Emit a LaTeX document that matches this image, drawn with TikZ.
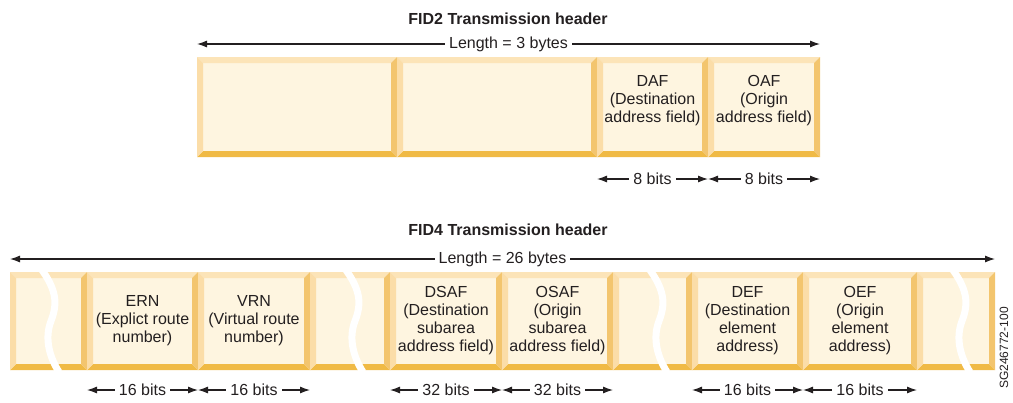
\documentclass[tikz,border=0pt]{standalone}
\usepackage{fontspec}
\setmainfont{Liberation Sans}
\usepackage{xcolor}
\definecolor{face}{HTML}{FEF5E0}
\definecolor{bevtop}{HTML}{FCE4B8}
\definecolor{bevleft}{HTML}{FBDDA8}
\definecolor{bevright}{HTML}{F3C56E}
\definecolor{bevbot}{HTML}{F0BA45}
\definecolor{ink}{HTML}{231F20}
\usetikzlibrary{positioning,arrows.meta}

% white wavy cut through a filler field: node, offset from its left edge
\newcommand{\wavebreak}[2]{%
  \draw[brk] ([xshift=#2pt,yshift=2pt]#1.north west)
    .. controls +(14,20) and +(7,-18) .. ([xshift=#2pt+9pt]#1.west)
    .. controls +(-7,18) and +(-9,-14) .. ([xshift=#2pt+17pt,yshift=-2pt]#1.south west);}

\begin{document}
\begin{tikzpicture}[x=1pt,y=-1pt, font=\fontsize{16}{18}\selectfont, text=ink,
  field/.style={fill=face, inner sep=0pt, outer sep=0pt, minimum height=98pt, align=center,
    path picture={
      \coordinate (nw) at (path picture bounding box.north west);
      \coordinate (ne) at (path picture bounding box.north east);
      \coordinate (sw) at (path picture bounding box.south west);
      \coordinate (se) at (path picture bounding box.south east);
      \fill[bevtop] (nw) -- (ne) -- ([shift={(-6pt,-6pt)}]ne) -- ([shift={(6pt,-6pt)}]nw) -- cycle;
      \fill[bevbot] (sw) -- (se) -- ([shift={(-6pt,6pt)}]se) -- ([shift={(6pt,6pt)}]sw) -- cycle;
      \fill[bevleft] (nw) -- ([shift={(6pt,-6pt)}]nw) -- ([shift={(6pt,6pt)}]sw) -- (sw) -- cycle;
      \fill[bevright] (ne) -- ([shift={(-6pt,-6pt)}]ne) -- ([shift={(-6pt,6pt)}]se) -- (se) -- cycle;}},
  ftext/.style={align=center, text=ink},
  dim/.style={{Latex[length=10pt,width=7pt]}-{Latex[length=10pt,width=7pt]}, line width=1.1pt, ink},
  lbl/.style={fill=white, inner xsep=4pt, inner ysep=1pt},
  brk/.style={white, line width=7pt},
  title/.style={font=\fontsize{16}{18}\selectfont\bfseries}]
  \useasboundingbox (0,0) rectangle (1013,402);

  % FID2
  \node[title] (fid2) at (508,19) {FID2 Transmission header};
  \node[field, minimum width=200pt, minimum height=100pt, anchor=north west] (th1) at (197,57) {};
  \node[field, minimum width=200pt, minimum height=100pt, right=0pt of th1] (th2) {};
  \node[field, minimum width=111pt, minimum height=100pt, right=0pt of th2,
    label={[ftext,yshift=6pt]center:DAF\\(Destination\\address field)}] (daf) {};
  \node[field, minimum width=112pt, minimum height=100pt, right=0pt of daf,
    label={[ftext,yshift=6pt]center:OAF\\(Origin\\address field)}] (oaf) {};
  \draw[dim] ([yshift=13pt]th1.north west) -- ([yshift=13pt]oaf.north east) node[lbl, midway] {Length = 3 bytes};
  \draw[dim] ([yshift=-22pt]daf.south west) -- ([yshift=-22pt]daf.south east) node[lbl, midway] {8 bits};
  \draw[dim] ([yshift=-22pt]oaf.south west) -- ([yshift=-22pt]oaf.south east) node[lbl, midway] {8 bits};

  % FID4
  \node[title] (fid4) at (508,230) {FID4 Transmission header};
  \node[field, minimum width=77pt, anchor=north west] (pad1) at (10,272) {};
  \node[field, minimum width=111pt, right=0pt of pad1] (ern) {ERN\\(Explict route\\number)};
  \node[field, minimum width=112pt, right=0pt of ern] (vrn) {VRN\\(Virtual route\\number)};
  \node[field, minimum width=80pt, right=0pt of vrn] (pad2) {};
  \node[field, minimum width=112pt, right=0pt of pad2] (dsaf) {DSAF\\(Destination\\subarea\\address field)};
  \node[field, minimum width=111pt, right=0pt of dsaf] (osaf) {OSAF\\(Origin\\subarea\\address field)};
  \node[field, minimum width=79pt, right=0pt of osaf] (pad3) {};
  \node[field, minimum width=111pt, right=0pt of pad3] (def) {DEF\\(Destination\\element\\address)};
  \node[field, minimum width=114pt, right=0pt of def] (oef) {OEF\\(Origin\\element\\address)};
  \node[field, minimum width=78pt, right=0pt of oef] (pad4) {};
  \wavebreak{pad1}{32}
  \wavebreak{pad2}{36}
  \wavebreak{pad3}{37}
  \wavebreak{pad4}{36}
  \draw[dim] ([yshift=13pt]pad1.north west) -- ([yshift=13pt]pad4.north east) node[lbl, midway] {Length = 26 bytes};
  \draw[dim] ([yshift=-20pt]ern.south west) -- ([yshift=-20pt]ern.south east) node[lbl, midway] {16 bits};
  \draw[dim] ([yshift=-20pt]vrn.south west) -- ([yshift=-20pt]vrn.south east) node[lbl, midway] {16 bits};
  \draw[dim] ([yshift=-20pt]dsaf.south west) -- ([yshift=-20pt]dsaf.south east) node[lbl, midway] {32 bits};
  \draw[dim] ([yshift=-20pt]osaf.south west) -- ([yshift=-20pt]osaf.south east) node[lbl, midway] {32 bits};
  \draw[dim] ([yshift=-20pt]def.south west) -- ([yshift=-20pt]def.south east) node[lbl, midway] {16 bits};
  \draw[dim] ([yshift=-20pt]oef.south west) -- ([yshift=-20pt]oef.south east) node[lbl, midway] {16 bits};

  \node[rotate=90, font=\fontsize{12}{14}\selectfont] (figid) at (1004,348) {SG246772-100};
\end{tikzpicture}
\end{document}
